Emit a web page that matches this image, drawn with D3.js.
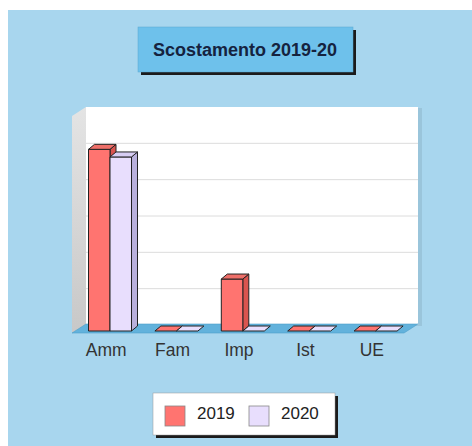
<!DOCTYPE html>
<html><head><meta charset="utf-8">
<script src="https://cdn.jsdelivr.net/npm/d3@7"></script>
<style>html,body{margin:0;padding:0;background:#fff;}svg{display:block;}</style>
</head><body>
<svg id="c" width="472" height="446"></svg>
<script>
const categories = ["Amm", "Fam", "Imp", "Ist", "UE"];
const series = ["2019", "2020"];
const values2019 = [5000, 0, 1430, 0, 0];
const values2020 = [4790, 0, 0, 0, 0];
const yTicks = [0, 1000, 2000, 3000, 4000, 5000, 6000];
const title = "Scostamento 2019-20";

const svg = d3.select("#c");
const defs = svg.append("defs");
const gw = defs.append("linearGradient").attr("id","lw").attr("x1",0).attr("x2",0).attr("y1",0).attr("y2",1);
gw.append("stop").attr("offset","0").attr("stop-color","#e4e4e4");
gw.append("stop").attr("offset","1").attr("stop-color","#c8c8c8");

svg.append("rect").attr("x",8).attr("y",10).attr("width",464).attr("height",436).attr("fill","#a8d6ee");

// geometry
const frontL = 72, frontR = 404, frontY = 333;
const D = {dx:14, dy:-9};
const yBack = d3.scaleLinear().domain([0,6000]).range([325,107]);
const yFront = d3.scaleLinear().domain([0,6000]).range([331,113]);
const x0 = d3.scaleBand().domain(categories).range([frontL, frontR]);
const x1 = d3.scaleBand().domain(series).range([0, 43]);

// back wall
svg.append("rect").attr("x",frontL+D.dx+2).attr("y",yBack(6000)+1).attr("width",frontR-frontL+2).attr("height",yBack(0)-yBack(6000)).attr("fill","#000").attr("opacity",0.08);
svg.append("rect").attr("x",frontL+D.dx).attr("y",yBack(6000)).attr("width",frontR-frontL).attr("height",yBack(0)-yBack(6000)).attr("fill","#fff");
// left wall
svg.append("path").attr("d",`M${frontL},${yBack(6000)-D.dy}L${frontL+D.dx},${yBack(6000)}L${frontL+D.dx},${yBack(0)}L${frontL},${frontY}Z`).attr("fill","url(#lw)");
// gridlines
svg.selectAll("line.g").data(yTicks.slice(1,-1)).join("line").attr("class","g")
  .attr("x1",frontL+D.dx).attr("x2",frontR+D.dx).attr("y1",d=>yBack(d)).attr("y2",d=>yBack(d))
  .attr("stroke","#dcdcdc").attr("stroke-width",1);
// floor
svg.append("path").attr("d",`M${frontL},${frontY}L${frontR},${frontY}L${frontR+D.dx},${frontY+D.dy}L${frontL+D.dx},${frontY+D.dy}Z`)
  .attr("fill","#62b2dc").attr("stroke","#4f9fc9").attr("stroke-width",0.6);

// bars
const bd = {dx:6, dy:-5};
const colors = {"2019":{front:"#ff7470", side:"#d9544f", top:"#ee6f69"}, "2020":{front:"#e8defd", side:"#b9b0dc", top:"#d7cdf3"}};
const data = [];
categories.forEach((c,i)=>{ data.push({c, s:"2019", v:values2019[i]}); data.push({c, s:"2020", v:values2020[i]}); });
const g = svg.append("g");
data.forEach(d=>{
  const x = x0(d.c) + 16.5 + x1(d.s), w = x1.bandwidth();
  const y0 = yFront(0), yt = yFront(d.v);
  const col = colors[d.s];
  const st = {stroke:"#222", "stroke-width":1, "stroke-linejoin":"round"};
  const add = (p,f)=>{ const e=g.append("path").attr("d",p).attr("fill",f); for(const k in st) e.attr(k,st[k]); };
  if (d.v > 0) {
    add(`M${x+w},${y0}L${x+w+bd.dx},${y0+bd.dy}L${x+w+bd.dx},${yt+bd.dy}L${x+w},${yt}Z`, col.side);
    add(`M${x},${y0}L${x+w},${y0}L${x+w},${yt}L${x},${yt}Z`, col.front);
  }
  add(`M${x},${yt}L${x+w},${yt}L${x+w+bd.dx},${yt+bd.dy}L${x+bd.dx},${yt+bd.dy}Z`, d.v>0?col.top:col.front);
});

// category labels
svg.selectAll("text.cat").data(categories).join("text").attr("class","cat")
  .attr("x",d=>x0(d)+x0.bandwidth()/2+1).attr("y",356).attr("text-anchor","middle")
  .attr("font-family","Liberation Sans, Arial, sans-serif").attr("font-size",17.5).attr("fill","#333").text(d=>d);

// title box
svg.append("rect").attr("x",141).attr("y",30).attr("width",215).attr("height",45).attr("fill","#1b1b1b");
svg.append("rect").attr("x",138).attr("y",27).attr("width",215).attr("height",45).attr("fill","#6ec1eb").attr("stroke","#5aa8d0").attr("stroke-width",0.5);
svg.append("text").attr("x",245).attr("y",56).attr("text-anchor","middle")
  .attr("font-family","Liberation Sans, Arial, sans-serif").attr("font-weight","bold").attr("font-size",18).attr("fill","#15233f").text(title);

// legend
svg.append("rect").attr("x",156).attr("y",396).attr("width",182).attr("height",42).attr("fill","#1b1b1b");
svg.append("rect").attr("x",153).attr("y",393).attr("width",182).attr("height",42).attr("fill","#fff").attr("stroke","#999").attr("stroke-width",0.5);
const lx = [165, 249];
series.forEach((s,i)=>{
  svg.append("rect").attr("x",lx[i]).attr("y",406).attr("width",20).attr("height",20).attr("fill",colors[s].front).attr("stroke","#888").attr("stroke-width",0.8);
  svg.append("text").attr("x",lx[i]+32).attr("y",419).attr("font-family","Liberation Sans, Arial, sans-serif").attr("font-size",17).attr("fill","#222").text(s);
});
</script>
</body></html>
